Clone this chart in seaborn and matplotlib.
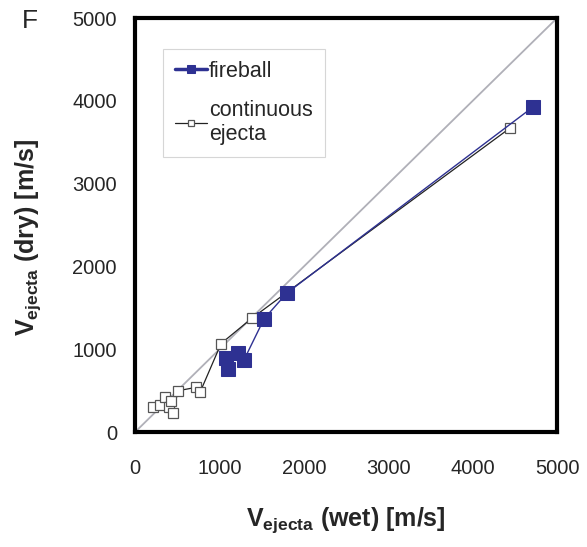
import numpy as np
import pandas as pd
import matplotlib
matplotlib.use("Agg")
import matplotlib.pyplot as plt
import seaborn as sns

# data
fireball_wet = [1080, 1100, 1220, 1290, 1530, 1800, 4720]
fireball_dry = [900, 760, 950, 870, 1370, 1680, 3930]

ejecta_wet = [210, 300, 360, 400, 430, 450, 510, 720, 770, 1020, 1390, 4440]
ejecta_dry = [300, 330, 430, 300, 380, 230, 500, 540, 480, 1070, 1380, 3670]

ticks = [0, 1000, 2000, 3000, 4000, 5000]

sns.set_style("white")
plt.rcParams["font.family"] = ["Liberation Sans", "DejaVu Sans"]
plt.rcParams["mathtext.fontset"] = "custom"
plt.rcParams["mathtext.rm"] = "Liberation Sans"
plt.rcParams["mathtext.bf"] = "Liberation Sans:bold"

fb = pd.DataFrame({"wet": fireball_wet, "dry": fireball_dry})
ej = pd.DataFrame({"wet": ejecta_wet, "dry": ejecta_dry})

fig = plt.figure(figsize=(5.87, 5.47), dpi=100)
ax = fig.add_axes([0.230, 0.210, 0.719, 0.757])

# 1:1 line
ax.plot([0, 5000], [0, 5000], color="#b0b0b8", lw=1.3, zorder=1)

sns.lineplot(data=ej, x="wet", y="dry", sort=False, estimator=None, ax=ax,
             color="#222222", lw=0.9, marker="s", markersize=7,
             markerfacecolor="white", markeredgecolor="#555555",
             markeredgewidth=0.9, label="continuous\nejecta", zorder=2)
sns.lineplot(data=fb, x="wet", y="dry", sort=False, estimator=None, ax=ax,
             color="#2e3192", lw=1.0, marker="s", markersize=10,
             markeredgecolor="#2e3192", label="fireball", zorder=3)

ax.set_xlim(0, 5000)
ax.set_ylim(0, 5000)
ax.set_xticks(ticks)
ax.set_yticks(ticks)
ax.tick_params(axis="both", direction="out", length=5, width=1.2,
               labelsize=14.5, color="black", pad=8)
ax.tick_params(axis="x", pad=14)

for s in ax.spines.values():
    s.set_linewidth(3)
    s.set_color("black")

ax.set_xlabel(r"V$_{\mathbf{ejecta}}$ (wet) [m/s]", fontsize=18,
              fontweight="bold", labelpad=20)
ax.set_ylabel(r"V$_{\mathbf{ejecta}}$ (dry) [m/s]", fontsize=18,
              fontweight="bold")
ax.yaxis.set_label_coords(-0.218, 0.47)

handles, labels = ax.get_legend_handles_labels()
order = [labels.index("fireball"), labels.index("continuous\nejecta")]
leg = ax.legend([handles[i] for i in order], [labels[i] for i in order],
                loc="upper left", bbox_to_anchor=(0.066, 0.925), fontsize=15.5,
                handlelength=1.5, handletextpad=0.1, borderpad=0.55,
                labelspacing=0.83, frameon=True, fancybox=False,
                edgecolor="#cccccc", borderaxespad=0, markerscale=0.6)
leg.get_frame().set_linewidth(0.8)
leg.legend_handles[0].set_linewidth(2.5)

fig.text(0.038, 0.962, "F", fontsize=19, ha="left", va="center")

fig.savefig("out.png", dpi=100)
